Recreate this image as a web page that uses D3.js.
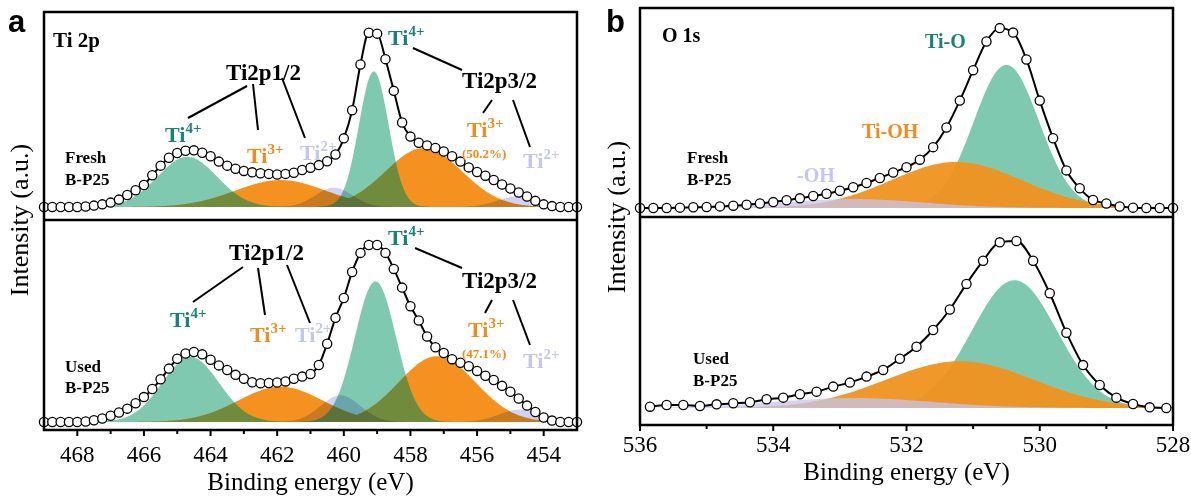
<!DOCTYPE html>
<html><head><meta charset="utf-8">
<script src="https://cdn.jsdelivr.net/npm/d3@7"></script>
<style>body{margin:0;background:#fff}svg{display:block}</style>
</head><body>
<svg id="chart" width="1191" height="496"></svg>
<script>
// ---------------- DATA ----------------
// Ti 2p spectra: measured points every 0.25 eV from 469 eV downwards
const tiEnergyStart = 469, tiEnergyStep = 0.25;
const tiFreshIntensity = [0,0,0,0,0,0.3,0.8,1.5,2.5,4.2,6.8,9.5,12.5,18,23.5,28,30.7,32,32.2,30.8,28.8,25.8,23.5,21.7,20.5,19.7,19.2,18.8,18.5,18.8,19.5,21,22.3,23.8,26,29.8,39,55,81,99,98.5,84,66,48,40,36.5,35,33.5,31.5,28.8,25.8,22.5,19.9,17.8,15.3,12.8,10.5,8.2,6,3.5,1.5,0.5,0,0,0];
const tiUsedIntensity = [0,0,0,0,0,0.3,1,2,3.5,5.3,7.5,10.5,14,18.5,24,30,35.5,38.5,39.3,38,35,31.8,29.2,26.5,24.3,22.3,21.8,21.9,22.2,22.8,24.3,25.5,27,32,44,58.5,69.7,84.3,95,99.4,99.4,95,86,75.5,65,57,48,42,38.8,35.3,33.3,31.3,28.7,26,23.6,20.3,17,13.2,9.2,5.6,2.5,0.8,0,0,0];
// fitted Ti 2p components
const tiPeakState = ["Ti4+","Ti3+","Ti2+","Ti4+","Ti3+","Ti2+"];
const tiPeakLevel = ["2p1/2","2p1/2","2p1/2","2p3/2","2p3/2","2p3/2"];
const tiFreshCenter = [464.7, 461.9, 460.3, 459.1, 457.6, 454.8];
const tiFreshHeight = [28.5, 15.3, 11, 77, 33.5, 6];
const tiFreshFwhm   = [2.1, 3.2, 1.3, 1.05, 2.7, 1.4];
const tiUsedCenter  = [464.6, 461.9, 460.1, 459.05, 457.2, 454.7];
const tiUsedHeight  = [36.5, 19.8, 15, 79, 37, 7];
const tiUsedFwhm    = [2.0, 3.0, 1.4, 1.45, 2.7, 1.5];
const tiTicks = [468, 466, 464, 462, 460, 458, 456, 454];
const tiMinorTicks = [467, 465, 463, 461, 459, 457, 455];
const tiDomain = [469, 453];
const tiTi3Share = ["(50.2%)", "(47.1%)"];

// O 1s spectra
const oFreshStart = 536, oFreshStep = 0.2;
const oFreshIntensity = [0,0,0,0.2,0.4,0.6,0.9,1.3,1.8,2.5,3.3,4.3,5.4,6.7,8.0,9.6,11.6,14,16.8,19.8,22.8,27,34,45,60,77,93,100.5,98,83,60,39,21,11,4.5,2.5,0.8,0.2,0,0,0];
const oUsedStart = 535.85, oUsedStep = 0.25;
const oUsedIntensity = [0.8,1.8,1.8,1.2,2.2,2.8,3.4,5.2,6.2,8.2,9.8,12.8,15.2,18.8,22.8,29.5,36.7,46.7,59,74.3,88.2,99.2,100,88.2,68.7,45.1,25.7,13.8,6.2,2.4,0.4,0];
const oPeakName = ["Ti-O", "Ti-OH", "-OH"];
const oFreshCenter = [530.5, 531.25, 532.8];
const oFreshHeight = [80, 25.7, 5];
const oFreshFwhm   = [1.15, 2.3, 2.5];
const oUsedCenter  = [530.38, 531.2, 532.8];
const oUsedHeight  = [76.6, 28, 6];
const oUsedFwhm    = [1.5, 2.6, 2.8];
const oTicks = [536, 534, 532, 530, 528];
const oMinorTicks = [535, 533, 531, 529];
const oDomain = [536, 528];

// ---------------- STYLE ----------------
const SERIF = "'Liberation Serif','Times New Roman',serif";
const SANS = "'Liberation Sans',Arial,sans-serif";
const fillCol = {"Ti4+":"#80c9b1","Ti3+":"#f5921f","Ti2+":"#c9ccf5","Ti-O":"#80c9b1","Ti-OH":"#f0921f","-OH":"#c6c6ee"};
const overlapCol = "#6f8b3b";
const textCol = {teal:"#178276", orange:"#f58a1c", lav:"#c3c6f0"};

const svg = d3.select("#chart");
const gauss = (x, c, h, w) => h * Math.exp(-4 * Math.LN2 * ((x - c) / w) ** 2);

function drawSub(cfg) {
  const x = d3.scaleLinear().domain(cfg.domain).range([cfg.x0, cfg.x1]);
  const y = d3.scaleLinear().domain([0, 100]).range([cfg.base, cfg.peak]);
  const g = svg.append("g");
  const grid = d3.range(cfg.domain[0], cfg.domain[1] - 0.001, -0.04);
  const area = d3.area().x(d => x(d[0])).y0(y(0)).y1(d => y(d[1]));
  const comp = i => e => gauss(e, cfg.centers[i], cfg.heights[i], cfg.fwhm[i]);
  const drawIdx = i => g.append("path").attr("d", area(grid.map(e => [e, comp(i)(e)])))
      .attr("fill", fillCol[cfg.kinds[i]]).attr("opacity", cfg.opac[i])
      .style("mix-blend-mode", cfg.blend[i]);
  cfg.first.forEach(drawIdx);
  (cfg.overlaps || []).forEach(([a, b]) => {
    g.append("path").attr("d", area(grid.map(e => [e, Math.min(comp(a)(e), comp(b)(e))])))
      .attr("fill", overlapCol);
  });
  cfg.last.forEach(drawIdx);
  const pts = cfg.values.map((v, i) => [cfg.start - i * cfg.step, v]);
  g.append("path").attr("d", d3.line().x(d => x(d[0])).y(d => y(d[1])).curve(d3.curveMonotoneX)(pts))
    .attr("fill", "none").attr("stroke", "#000").attr("stroke-width", 2);
  g.selectAll("circle.pt").data(pts).enter().append("circle")
    .attr("cx", d => x(d[0])).attr("cy", d => y(d[1])).attr("r", 4.6)
    .attr("fill", "#fff").attr("stroke", "#000").attr("stroke-width", 1.3);
  return x;
}

function frame(x0, x1, top, mid, bottom, xScale, ticks, minor, labelY, titleY, ytitleX) {
  svg.append("rect").attr("x", x0).attr("y", top).attr("width", x1 - x0).attr("height", bottom - top)
    .attr("fill", "none").attr("stroke", "#000").attr("stroke-width", 2.5);
  svg.append("line").attr("x1", x0).attr("x2", x1).attr("y1", mid).attr("y2", mid)
    .attr("stroke", "#000").attr("stroke-width", 2.5);
  const ax = svg.append("g").attr("transform", `translate(0,${bottom})`);
  ax.selectAll("line.maj").data(ticks).enter().append("line")
    .attr("x1", d => xScale(d)).attr("x2", d => xScale(d)).attr("y1", 0).attr("y2", 6)
    .attr("stroke", "#000").attr("stroke-width", 2);
  ax.selectAll("line.min").data(minor).enter().append("line")
    .attr("x1", d => xScale(d)).attr("x2", d => xScale(d)).attr("y1", 0).attr("y2", 4)
    .attr("stroke", "#000").attr("stroke-width", 2);
  ax.selectAll("text").data(ticks).enter().append("text")
    .attr("x", d => xScale(d)).attr("y", labelY - bottom).attr("text-anchor", "middle")
    .attr("font-family", SERIF).attr("font-size", 23).text(d => d);
  svg.append("text").attr("x", (x0 + x1) / 2).attr("y", titleY).attr("text-anchor", "middle")
    .attr("font-family", SERIF).attr("font-size", 25).text("Binding energy (eV)");
  svg.append("text").attr("transform", `translate(${ytitleX},${mid}) rotate(-90)`)
    .attr("text-anchor", "middle").attr("font-family", SERIF).attr("font-size", 26).text("Intensity (a.u.)");
}

function txt(x, y, s, size, color, weight) {
  return svg.append("text").attr("x", x).attr("y", y).attr("font-family", SERIF)
    .attr("font-size", size).attr("font-weight", weight || "bold").attr("fill", color || "#000").text(s);
}
function ti(x, y, sup, color) {
  const t = svg.append("text").attr("x", x).attr("y", y).attr("font-family", SERIF)
    .attr("font-size", 22).attr("font-weight", "bold").attr("fill", color);
  t.append("tspan").text("Ti");
  t.append("tspan").attr("dy", -9).attr("font-size", 15).text(sup);
}
function seg(x1, y1, x2, y2) {
  svg.append("line").attr("x1", x1).attr("y1", y1).attr("x2", x2).attr("y2", y2)
    .attr("stroke", "#000").attr("stroke-width", 2);
}

// ---------------- PANEL a ----------------
const tiBlend = ["normal","normal","multiply","normal","normal","multiply"];
const tiOpac = [1, 1, 0.85, 1, 1, 0.85];
const tiCommon = {domain: tiDomain, x0: 44, x1: 577, start: tiEnergyStart, step: tiEnergyStep,
  kinds: tiPeakState, first: [0, 3, 1, 4], last: [2, 5], overlaps: [[0, 1], [3, 1], [3, 4], [0, 4]],
  blend: tiBlend, opac: tiOpac};
const xa = drawSub(Object.assign({}, tiCommon, {base: 207, peak: 31, values: tiFreshIntensity,
  centers: tiFreshCenter, heights: tiFreshHeight, fwhm: tiFreshFwhm}));
drawSub(Object.assign({}, tiCommon, {base: 422, peak: 244, values: tiUsedIntensity,
  centers: tiUsedCenter, heights: tiUsedHeight, fwhm: tiUsedFwhm}));
frame(44, 577, 12, 220, 430, xa, tiTicks, tiMinorTicks, 462, 490, 28);

svg.append("text").attr("x", 8).attr("y", 32).attr("font-family", SANS).attr("font-size", 31)
  .attr("font-weight", "bold").text("a");
txt(53, 47, "Ti 2p", 21);
// fresh
txt(65, 163, "Fresh", 17); txt(65, 185, "B-P25", 17);
txt(226, 80, "Ti2p1/2", 23);
seg(247, 86, 188, 118); seg(253, 84, 258, 130); seg(282, 78, 305, 138);
ti(165, 142, "4+", textCol.teal);
ti(247, 163, "3+", textCol.orange);
ti(300, 160, "2+", textCol.lav);
ti(388, 45, "4+", textCol.teal);
seg(413, 48, 462, 70);
txt(462, 88, "Ti2p3/2", 23);
seg(492, 100, 483, 113); seg(513, 100, 530, 147);
ti(467, 137, "3+", textCol.orange);
txt(462, 158, tiTi3Share[0], 13, textCol.orange);
ti(523, 168, "2+", textCol.lav);
// used
txt(65, 372, "Used", 17); txt(65, 393, "B-P25", 17);
txt(229, 260, "Ti2p1/2", 23);
seg(243, 267, 193, 302); seg(258, 268, 265, 315); seg(287, 265, 310, 323);
ti(170, 327, "4+", textCol.teal);
ti(250, 342, "3+", textCol.orange);
ti(295, 342, "2+", textCol.lav);
ti(388, 245, "4+", textCol.teal);
seg(415, 248, 462, 268);
txt(462, 288, "Ti2p3/2", 23);
seg(492, 300, 485, 313); seg(513, 300, 530, 345);
ti(468, 337, "3+", textCol.orange);
txt(462, 358, tiTi3Share[1], 13, textCol.orange);
ti(523, 368, "2+", textCol.lav);

// ---------------- PANEL b ----------------
const oCommon = {domain: oDomain, x0: 640, x1: 1173, kinds: oPeakName, first: [0, 1, 2], last: [],
  blend: ["normal","normal","normal"], opac: [1, 0.95, 0.75]};
const xb = drawSub(Object.assign({}, oCommon, {base: 208, peak: 29, start: oFreshStart, step: oFreshStep,
  values: oFreshIntensity, centers: oFreshCenter, heights: oFreshHeight, fwhm: oFreshFwhm}));
drawSub(Object.assign({}, oCommon, {base: 408, peak: 241, start: oUsedStart, step: oUsedStep,
  values: oUsedIntensity, centers: oUsedCenter, heights: oUsedHeight, fwhm: oUsedFwhm}));
frame(640, 1173, 8, 217, 425, xb, oTicks, oMinorTicks, 452, 480, 625);

svg.append("text").attr("x", 606).attr("y", 32).attr("font-family", SANS).attr("font-size", 31)
  .attr("font-weight", "bold").text("b");
txt(662, 42, "O 1s", 20);
txt(687, 163, "Fresh", 17); txt(687, 185, "B-P25", 17);
txt(797, 182, oPeakName[2], 20, textCol.lav);
txt(862, 138, oPeakName[1], 20, textCol.orange);
txt(925, 48, oPeakName[0], 20, textCol.teal);
txt(693, 364, "Used", 17); txt(693, 386, "B-P25", 17);
</script>
</body></html>
